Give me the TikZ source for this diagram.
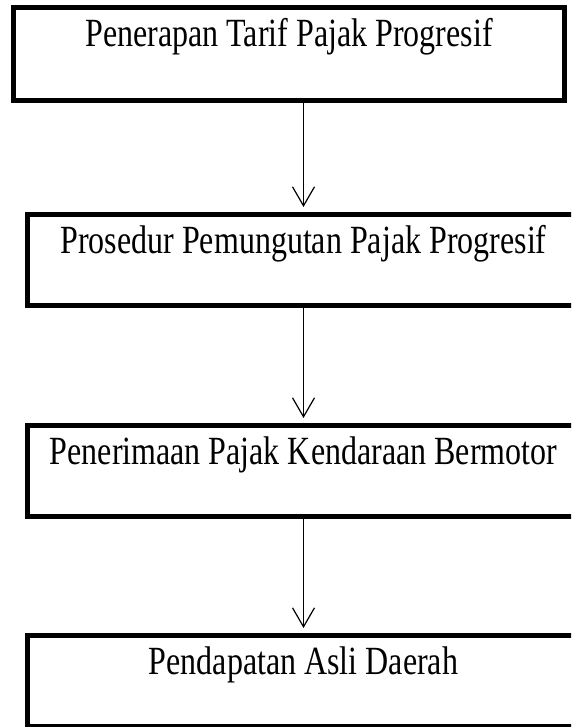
\documentclass[tikz,border=0pt]{standalone}
\usepackage{fontspec}
\usepackage{graphicx}
\setmainfont{Liberation Serif}
\usetikzlibrary{arrows.meta}

\newcommand{\tinggi}[1]{\scalebox{1}[1.25]{#1}}

\tikzset{
  kotak/.style={draw, line width=5pt, anchor=north west, inner xsep=0pt, inner ysep=0pt,
    font=\fontsize{32}{38}\selectfont, text height=39.5pt},
  panah/.style={line width=1.2pt, -{Straight Barb[length=19pt,width=22pt,line width=1.2pt]}, shorten >=5pt}
}

\begin{document}
\begin{tikzpicture}[x=1pt,y=1pt]
			\useasboundingbox (0,0) rectangle (571,727);
			\clip (0,0) rectangle (571,727);
			\node[kotak, minimum width=551pt, text depth=53.5pt] (penerapan) at (11,722) {\tinggi{Penerapan Tarif Pajak Progresif}};
			\node[kotak, minimum width=552pt, text depth=51.5pt] (prosedur) at (25,515) {\tinggi{Prosedur Pemungutan Pajak Progresif}};
			\node[kotak, minimum width=552pt, text depth=51.5pt] (penerimaan) at (25,304) {\tinggi{Penerimaan Pajak Kendaraan Bermotor}};
			\node[kotak, minimum width=552pt, text depth=51.5pt] (pad) at (25,94) {\tinggi{Pendapatan Asli Daerah}};
			\draw[panah] (prosedur.north |- penerapan.south) -- (prosedur.north);
			\draw[panah] (prosedur.south) -- (penerimaan.north);
			\draw[panah] (penerimaan.south) -- (pad.north);
		\end{tikzpicture}
\end{document}
